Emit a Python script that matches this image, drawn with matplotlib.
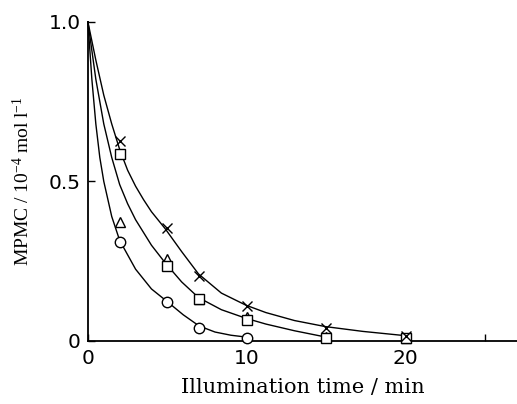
import matplotlib
matplotlib.use("Agg")
import matplotlib.pyplot as plt

# marker data (min, 10^-4 mol/l)
t_cross = [2, 5, 7, 10, 15, 20]
y_cross = [0.627, 0.354, 0.204, 0.110, 0.040, 0.016]
t_square = [2, 5, 7, 10, 15, 20]
y_square = [0.586, 0.235, 0.132, 0.066, 0.010, 0.008]
t_tri = [2, 5, 7, 10, 15, 20]
y_tri = [0.373, 0.257, 0.132, 0.075, 0.012, 0.010]
t_circle = [2, 5, 7, 10]
y_circle = [0.311, 0.123, 0.040, 0.010]

# hand-drawn curves
t_curve_top = [0, 0.5, 1.0, 1.5, 2.0, 2.5, 3.0, 3.5, 4.0, 4.86, 5.9, 6.96, 8.4, 9.95, 11.2, 13, 14.95, 17.3, 19.7]
y_curve_top = [1.0, 0.88, 0.77, 0.68, 0.60, 0.535, 0.485, 0.443, 0.405, 0.352, 0.280, 0.210, 0.150, 0.112, 0.089, 0.064, 0.045, 0.030, 0.018]
t_curve_mid = [0, 0.5, 1.0, 1.5, 2.0, 2.5, 3.0, 4.0, 4.86, 5.9, 6.96, 8.4, 9.95, 11.2, 13, 15]
y_curve_mid = [1.0, 0.82, 0.68, 0.575, 0.49, 0.43, 0.38, 0.30, 0.245, 0.185, 0.136, 0.098, 0.071, 0.053, 0.032, 0.012]
t_curve_low = [0, 0.25, 0.5, 0.75, 1.0, 1.5, 2.0, 3.0, 4.0, 5.0, 6.0, 7.0, 8.0, 9.0, 10]
y_curve_low = [1.0, 0.82, 0.68, 0.575, 0.50, 0.39, 0.315, 0.225, 0.163, 0.123, 0.082, 0.047, 0.028, 0.018, 0.012]

x_ticks = [0, 10, 20, 25]
x_ticklabels = ["0", "10", "20", ""]
y_ticks = [0, 0.5, 1.0]
y_ticklabels = ["0", "0.5", "1.0"]

plt.rcParams["mathtext.default"] = "regular"

fig = plt.figure(figsize=(5.17, 4.04), dpi=100)
ax = fig.add_axes([0.170, 0.156, 0.830, 0.790])

for t, y in [(t_curve_top, y_curve_top), (t_curve_mid, y_curve_mid), (t_curve_low, y_curve_low)]:
    ax.plot(t, y, color="black", lw=1.0, zorder=2, clip_on=False)

mk = dict(linestyle="none", color="black", markerfacecolor="white",
          markeredgewidth=1.0, zorder=3, clip_on=False)
ax.plot(t_circle, y_circle, marker="o", markersize=7.5, **mk)
ax.plot(t_tri, y_tri, marker="^", markersize=7.5, **mk)
ax.plot(t_square, y_square, marker="s", markersize=6.5, **mk)
ax.plot(t_cross, y_cross, marker="x", markersize=7.5, linestyle="none",
        color="black", markeredgewidth=1.0, zorder=4, clip_on=False)

ax.set_xlim(0, 27)
ax.set_ylim(0, 1.0)
ax.spines["top"].set_visible(False)
ax.spines["right"].set_visible(False)
for s in ("left", "bottom"):
    ax.spines[s].set_linewidth(1.3)

ax.set_xticks(x_ticks)
ax.set_xticklabels(x_ticklabels)
ax.set_yticks(y_ticks)
ax.set_yticklabels(y_ticklabels)
ax.tick_params(direction="in", length=5, width=1.0, labelsize=14.5)
ax.tick_params(axis="x", pad=6)
ax.tick_params(axis="y", pad=5)
for lab in ax.get_xticklabels() + ax.get_yticklabels():
    lab.set_fontfamily("DejaVu Sans")

ax.set_xlabel("Illumination time / min", family="DejaVu Serif", fontsize=15, labelpad=7)
ax.set_ylabel(r"MPMC / 10$^{-4}$ mol l$^{-1}$", family="Liberation Serif", fontsize=14, labelpad=11)

fig.savefig("out.png", dpi=100)
